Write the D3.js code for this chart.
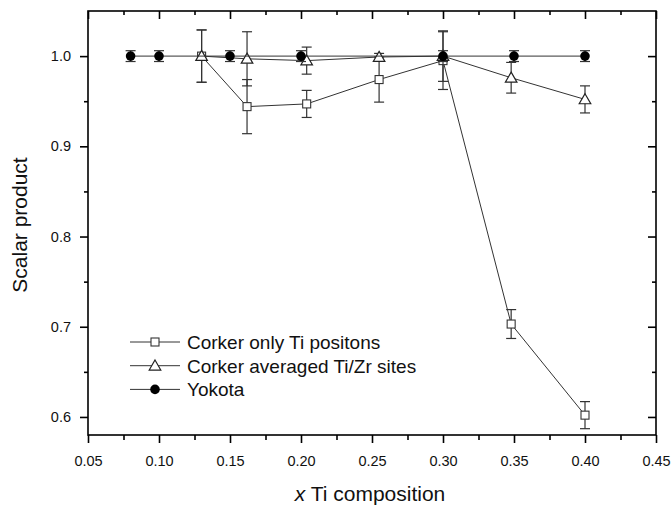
<!DOCTYPE html>
<html>
<head>
<meta charset="utf-8">
<script src="https://cdn.jsdelivr.net/npm/d3@7"></script>
<style>
  body { margin: 0; background: #fff; }
  svg { font-family: "Liberation Sans", Arial, sans-serif; }
  .axis path, .axis line { stroke: #000; }
  .axis text { font-size: 14.5px; fill: #111; }
</style>
</head>
<body>
<div id="chart"></div>
<script>
// data
var xTi = [0.13, 0.162, 0.204, 0.255, 0.30, 0.348, 0.40];
var onlyTi = [1.0, 0.944, 0.947, 0.974, 0.995, 0.703, 0.602];
var onlyTiErr = [0.029, 0.03, 0.015, 0.025, 0.032, 0.016, 0.015];
var averaged = [1.0, 0.997, 0.995, 0.999, 1.0, 0.976, 0.952];
var averagedErr = [0.029, 0.03, 0.015, 0.004, 0.028, 0.017, 0.015];
var xYokota = [0.08, 0.10, 0.15, 0.20, 0.30, 0.35, 0.40];
var yokota = [1.0, 1.0, 1.0, 1.0, 1.0, 1.0, 1.0];
var yokotaErr = [0.006, 0.006, 0.006, 0.006, 0.006, 0.006, 0.006];

var xTicks = [0.05, 0.10, 0.15, 0.20, 0.25, 0.30, 0.35, 0.40, 0.45];
var xMinor = [0.075, 0.125, 0.175, 0.225, 0.275, 0.325, 0.375, 0.425];
var yTicks = [0.6, 0.7, 0.8, 0.9, 1.0];
var yMinor = [0.65, 0.75, 0.85, 0.95];
var seriesNames = ["Corker only Ti positons", "Corker averaged Ti/Zr sites", "Yokota"];

var width = 672, height = 507;
var plotL = 88, plotR = 656, plotT = 11, plotB = 435;

var svg = d3.select("#chart").append("svg")
    .attr("width", width)
    .attr("height", height);

var x = d3.scaleLinear().domain([0.05, 0.45]).range([plotL, plotR]);
var y = d3.scaleLinear().domain([0.58, 1.05]).range([plotB, plotT]);

// frame
svg.append("rect")
    .attr("x", plotL).attr("y", plotT)
    .attr("width", plotR - plotL).attr("height", plotB - plotT)
    .attr("fill", "none").attr("stroke", "#000").attr("stroke-width", 1.6);

function drawAxis(axis, tx, ty) {
    var g = svg.append("g").attr("class", "axis")
        .attr("transform", "translate(" + tx + "," + ty + ")")
        .call(axis);
    g.select(".domain").remove();
    g.selectAll("line").attr("stroke-width", 1.6);
    return g;
}

var fmt = d3.format(".2f");
drawAxis(d3.axisBottom(x).tickValues(xTicks).tickSize(8).tickPadding(13).tickFormat(fmt), 0, plotB);
drawAxis(d3.axisBottom(x).tickValues(xMinor).tickSize(5).tickFormat(""), 0, plotB);
drawAxis(d3.axisTop(x).tickValues(xTicks).tickSize(-8).tickFormat(""), 0, plotT);
drawAxis(d3.axisTop(x).tickValues(xMinor).tickSize(-4).tickFormat(""), 0, plotT);

drawAxis(d3.axisLeft(y).tickValues(yTicks).tickSize(8).tickPadding(9).tickFormat(d3.format(".1f")), plotL, 0);
drawAxis(d3.axisLeft(y).tickValues(yMinor).tickSize(4).tickFormat(""), plotL, 0);
drawAxis(d3.axisRight(y).tickValues(yTicks).tickSize(-8).tickFormat(""), plotR, 0);
drawAxis(d3.axisRight(y).tickValues(yMinor).tickSize(-4).tickFormat(""), plotR, 0);

// axis titles
svg.append("text")
    .attr("x", 370).attr("y", 501)
    .attr("text-anchor", "middle")
    .attr("font-size", 21)
    .attr("fill", "#111")
    .html('<tspan font-style="italic">x</tspan> Ti composition');

svg.append("text")
    .attr("transform", "translate(27,225) rotate(-90)")
    .attr("text-anchor", "middle")
    .attr("font-size", 21)
    .attr("fill", "#111")
    .text("Scalar product");

var line = d3.line().x(function(d) { return x(d[0]); }).y(function(d) { return y(d[1]); });

function drawSeries(xs, ys, errs, shape) {
    var pts = xs.map(function(v, i) { return [v, ys[i], errs[i]]; });
    var g = svg.append("g");
    g.append("path").datum(pts)
        .attr("d", line)
        .attr("fill", "none").attr("stroke", "#333").attr("stroke-width", 1);
    var eb = g.selectAll(".eb").data(pts).enter().append("g");
    eb.append("line")
        .attr("x1", function(d) { return x(d[0]); }).attr("x2", function(d) { return x(d[0]); })
        .attr("y1", function(d) { return y(d[1] + d[2]); }).attr("y2", function(d) { return y(d[1] - d[2]); })
        .attr("stroke", "#333").attr("stroke-width", 1.2);
    [1, -1].forEach(function(s) {
        eb.append("line")
            .attr("x1", function(d) { return x(d[0]) - 5; }).attr("x2", function(d) { return x(d[0]) + 5; })
            .attr("y1", function(d) { return y(d[1] + s * d[2]); }).attr("y2", function(d) { return y(d[1] + s * d[2]); })
            .attr("stroke", "#333").attr("stroke-width", 1.2);
    });
    pts.forEach(function(d) { drawMarker(g, shape, x(d[0]), y(d[1])); });
}

function drawMarker(g, shape, cx, cy) {
    if (shape === "square") {
        g.append("rect").attr("x", cx - 4).attr("y", cy - 4).attr("width", 8).attr("height", 8)
            .attr("fill", "#fff").attr("stroke", "#333").attr("stroke-width", 1.1);
    } else if (shape === "triangle") {
        g.append("path").attr("d", d3.symbol().type(d3.symbolTriangle).size(58)())
            .attr("transform", "translate(" + cx + "," + (cy + 1) + ")")
            .attr("fill", "#fff").attr("stroke", "#222").attr("stroke-width", 1.2);
    } else {
        g.append("circle").attr("cx", cx).attr("cy", cy).attr("r", 4.8).attr("fill", "#000");
    }
}

drawSeries(xTi, onlyTi, onlyTiErr, "square");
drawSeries(xTi, averaged, averagedErr, "triangle");
drawSeries(xYokota, yokota, yokotaErr, "circle");

// legend
var shapes = ["square", "triangle", "circle"];
var legend = svg.append("g");
seriesNames.forEach(function(name, i) {
    var ly = 342 + i * 23.7;
    legend.append("line").attr("x1", 130).attr("x2", 180).attr("y1", ly).attr("y2", ly)
        .attr("stroke", "#333").attr("stroke-width", 1);
    drawMarker(legend, shapes[i], 155, ly);
    legend.append("text").attr("x", 187).attr("y", ly).attr("dy", "0.36em")
        .attr("font-size", 19).attr("fill", "#111").text(name);
});
</script>
</body>
</html>
